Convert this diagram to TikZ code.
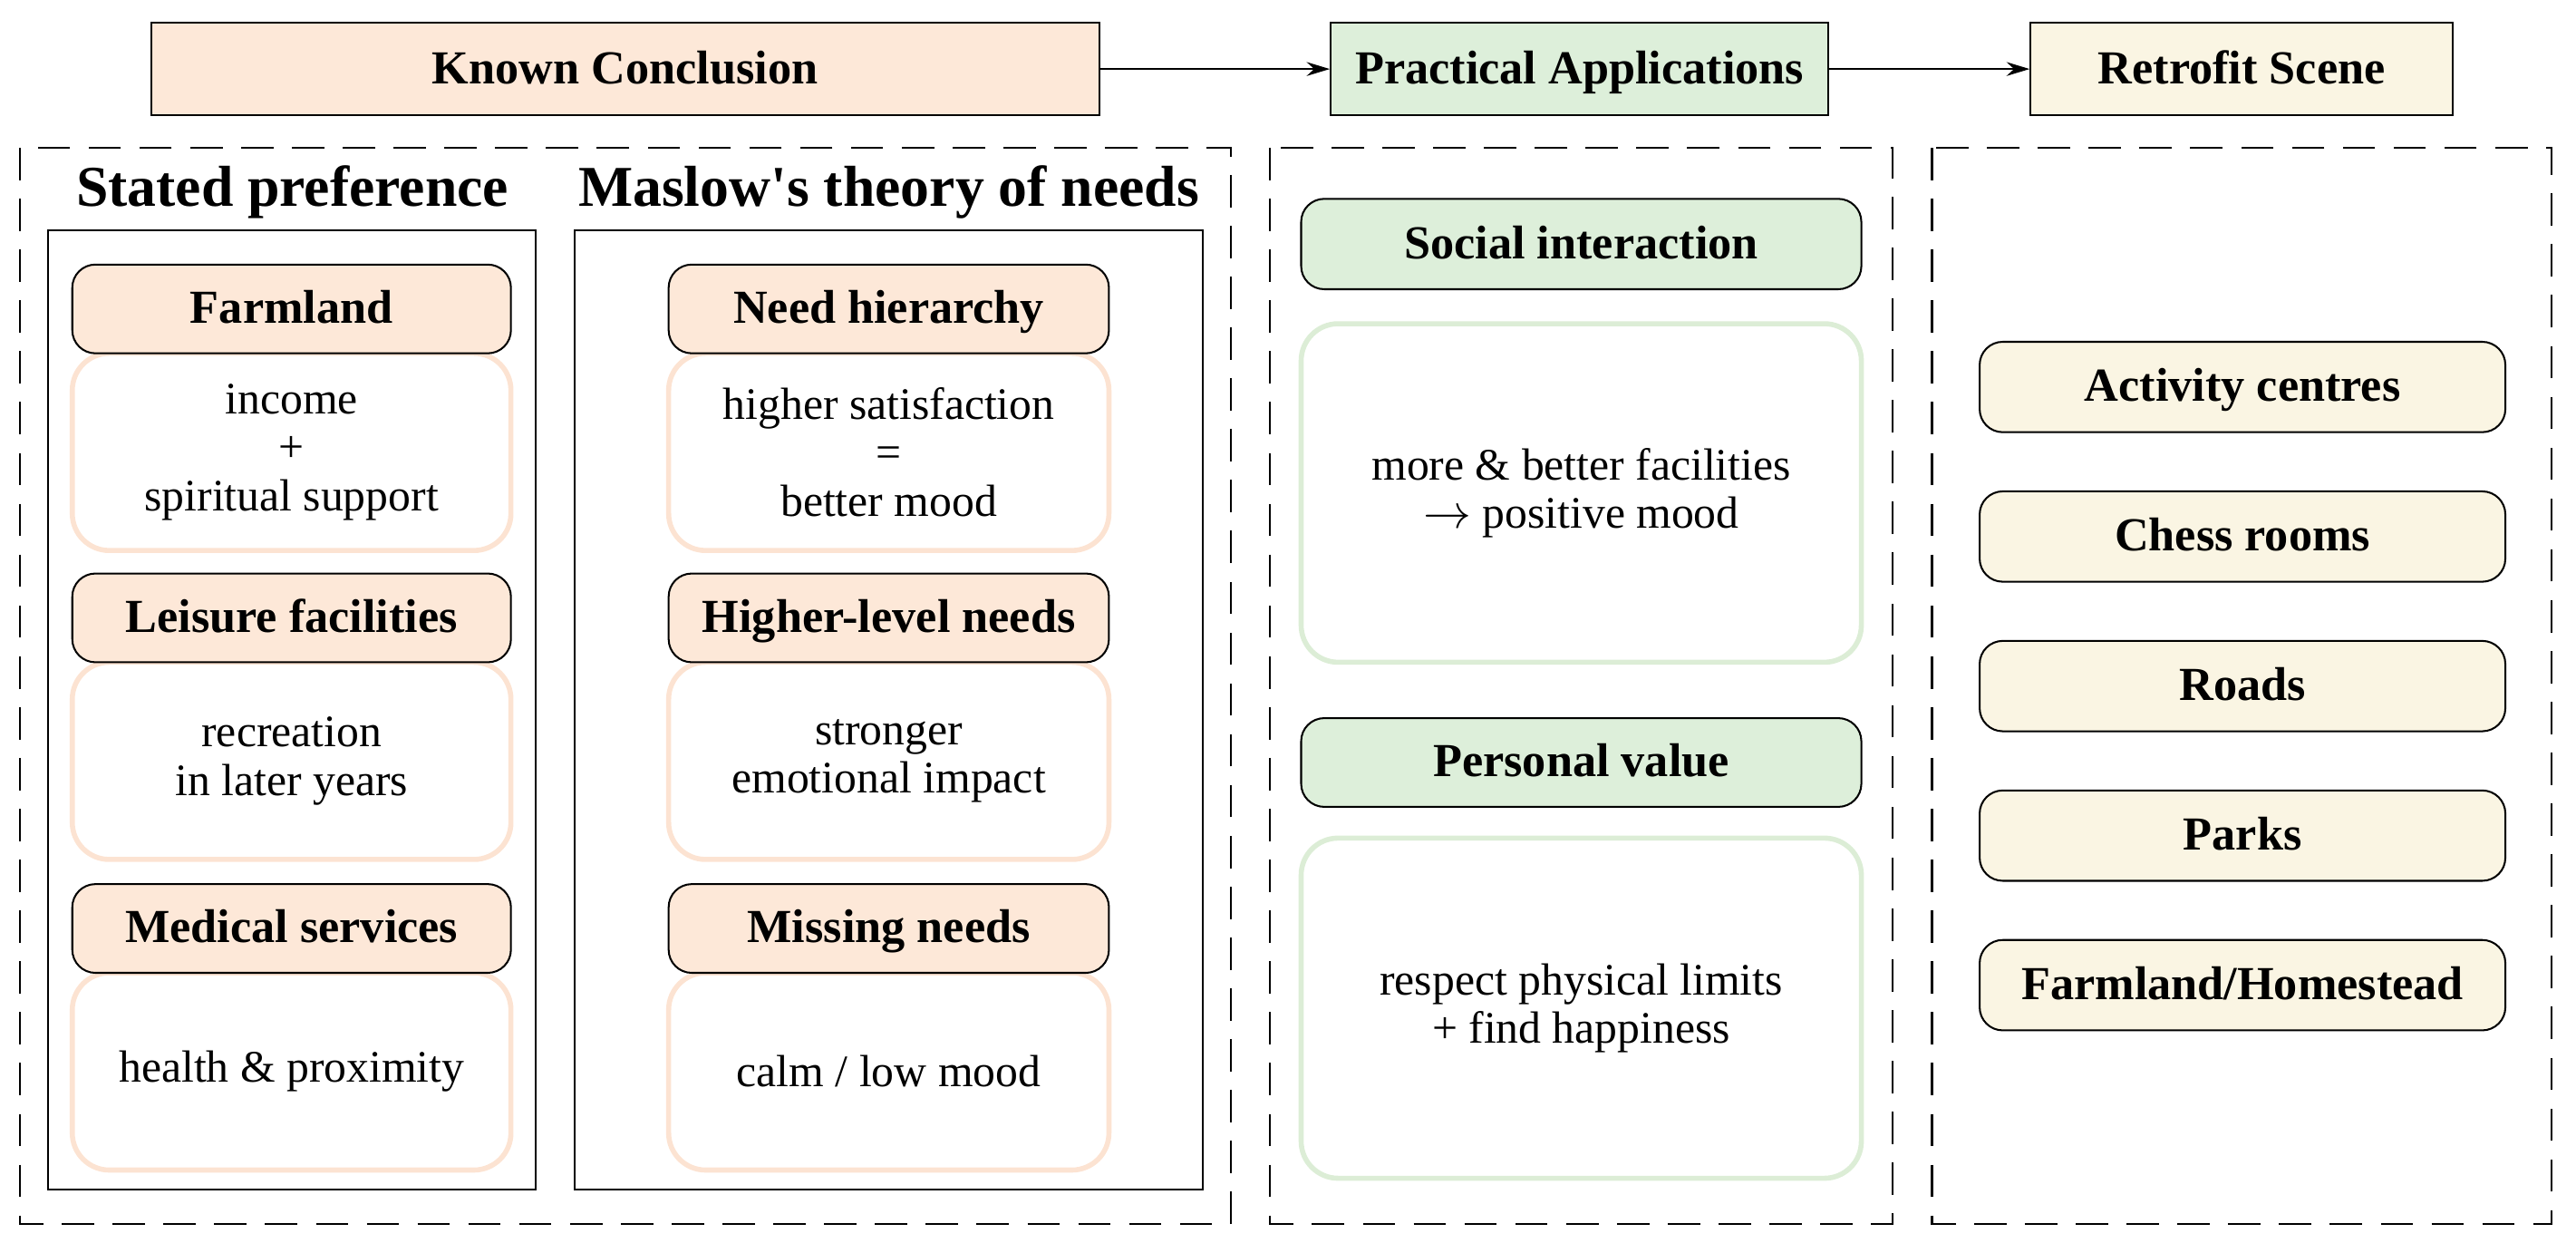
\documentclass[tikz,border=0pt]{standalone}
\usepackage{fontspec}
\setmainfont{Liberation Serif}
\usetikzlibrary{arrows.meta}
\definecolor{pe}{HTML}{FDE8D8}
\definecolor{pes}{HTML}{FCE3D2}
\definecolor{gr}{HTML}{DDEFDA}
\definecolor{grs}{HTML}{DCEDD6}
\definecolor{be}{HTML}{FAF5E3}
\begin{document}
\begin{tikzpicture}[x=0.025cm,y=-0.025cm,
 top/.style={draw,line width=0.8pt,font=\fontsize{20.5}{22}\selectfont\bfseries,inner sep=0,text height=14pt,text depth=1.5pt},
 hd/.style={draw,rounded corners=10pt,line width=0.8pt,font=\fontsize{20.5}{22}\selectfont\bfseries,inner sep=0,text height=14pt,text depth=1.5pt},
 tb/.style={draw,rounded corners=16pt,line width=2.2pt,font=\fontsize{19.5}{21}\selectfont,align=center,inner sep=0},
 dsh/.style={draw,dash pattern=on 14pt off 8pt,line width=0.8pt},
 ar/.style={-{Stealth[length=10pt,width=6pt]},line width=0.8pt}]
\useasboundingbox (0,0) rectangle (1568,762);
% top
\node[top,fill=pe,minimum width=577*0.025cm,minimum height=56*0.025cm] (kc) at (380.5,42) {Known Conclusion};
\node[top,fill=gr,minimum width=303*0.025cm,minimum height=56*0.025cm] (pa) at (961.5,42) {Practical Applications};
\node[top,fill=be,minimum width=257*0.025cm,minimum height=56*0.025cm] (rs) at (1364.5,42) {Retrofit Scene};
\draw[ar] (kc) -- (pa);
\draw[ar] (pa) -- (rs);
% dashed
\draw[dsh] (12,90) rectangle (749,745);
\draw[dsh] (773,90) rectangle (1152,745);
\draw[dsh] (1176,90) rectangle (1553,745);
\node[font=\fontsize{25}{27}\selectfont\bfseries] (t1) at (178,117) {Stated preference};
\node[font=\fontsize{25}{27}\selectfont\bfseries] (t2) at (541,117) {Maslow\textquotesingle s theory of needs};
\draw[line width=0.8pt] (29,140) rectangle (326,724);
\draw[line width=0.8pt] (350,140) rectangle (732,724);
% left col
\foreach \n/\h/\t/\y in {a/Farmland/{income\\+\\spiritual support}/161, b/Leisure facilities/{recreation\\in later years}/349, c/Medical services/{health \& proximity}/538}{
 \node[tb,draw=pes,minimum width=267*0.025cm,minimum height=120*0.025cm] (l\n t) at (177.5,\y+57+57) {\t};
 \node[hd,fill=pe,minimum width=267*0.025cm,minimum height=54*0.025cm] (l\n) at (177.5,\y+27) {\h};
}
\foreach \n/\h/\t/\y in {a/Need hierarchy/{higher satisfaction\\=\\better mood}/161, b/Higher-level needs/{stronger\\emotional impact}/349, c/Missing needs/{calm / low mood}/538}{
 \node[tb,draw=pes,minimum width=268*0.025cm,minimum height=120*0.025cm] (r\n t) at (541,\y+57+57) {\t};
 \node[hd,fill=pe,minimum width=268*0.025cm,minimum height=54*0.025cm] (r\n) at (541,\y+27) {\h};
}
% practical
\node[hd,fill=gr,minimum width=341*0.025cm,minimum height=55*0.025cm] (si) at (962.5,148.5) {Social interaction};
\node[tb,draw=grs,minimum width=341*0.025cm,minimum height=206*0.025cm] (sit) at (962.5,300) {more \& better facilities\\$\rightarrow$ positive mood};
\node[hd,fill=gr,minimum width=341*0.025cm,minimum height=54*0.025cm] (pv) at (962.5,464) {Personal value};
\node[tb,draw=grs,minimum width=341*0.025cm,minimum height=207*0.025cm] (pvt) at (962.5,613.5) {respect physical limits\\+ find happiness};
% retrofit
\foreach \n/\t/\y in {a/Activity centres/235.5, b/Chess rooms/326.5, c/Roads/417.5, d/Parks/508.5, e/Farmland\slash Homestead/599.5}{
 \node[hd,fill=be,minimum width=320*0.025cm,minimum height=55*0.025cm] (s\n) at (1365,\y) {\t};
}
\end{tikzpicture}
\end{document}
